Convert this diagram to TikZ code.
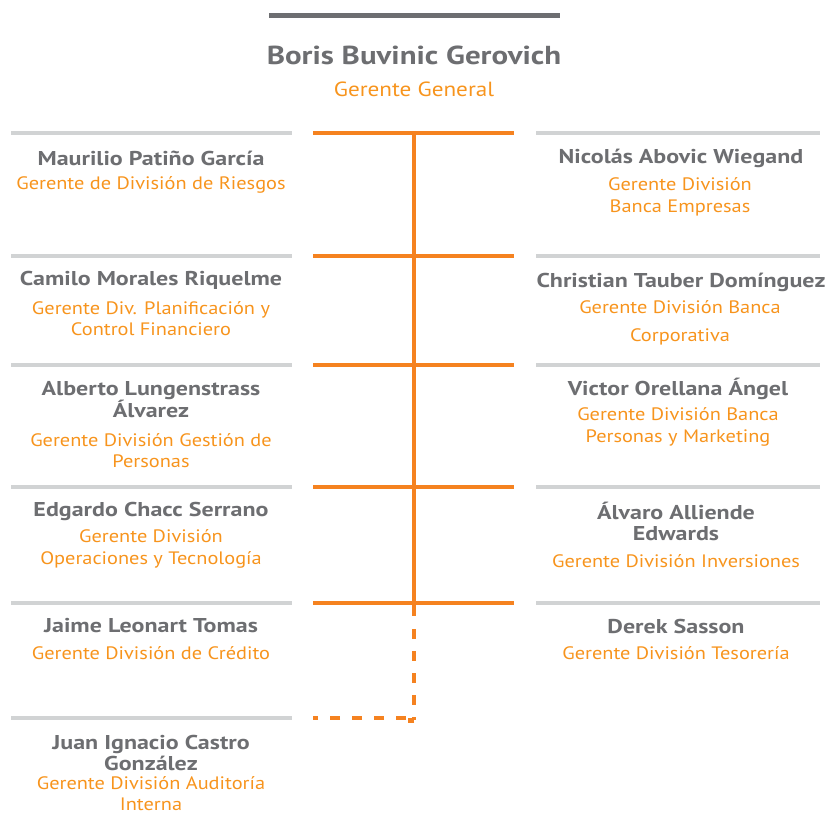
\documentclass[tikz,border=0pt]{standalone}
\usepackage{fontspec}
\setmainfont{PT Sans}
\newfontfamily\namefont[FakeStretch=1.2]{PT Sans}
\newfontfamily\rolefont[FakeStretch=1.13]{PT Sans}
\newfontfamily\titlefont[FakeStretch=1.19]{PT Sans}
\definecolor{txtgrey}{HTML}{6D6E71}
\definecolor{bargrey}{HTML}{D1D3D4}
\definecolor{darkbar}{HTML}{6D6E71}
\definecolor{corange}{HTML}{F58220}
\definecolor{torange}{HTML}{F7941D}
\begin{document}
\begin{tikzpicture}[x=1pt,y=-1pt,
  greybar/.style={draw=bargrey,line width=4.5pt},
  orbar/.style={draw=corange,line width=4.5pt},
  ordash/.style={draw=corange,line width=4.5pt,dash pattern=on 10pt off 12pt},
  pname/.style={text=txtgrey,font=\namefont\fontsize{20}{21}\selectfont\bfseries,align=center,inner sep=0pt},
  prole/.style={text=torange,font=\rolefont\fontsize{18}{21.5}\selectfont,align=center,inner sep=0pt},
  tname/.style={text=txtgrey,font=\titlefont\fontsize{26}{28}\selectfont\bfseries,inner sep=0pt},
  trole/.style={text=torange,font=\rolefont\fontsize{20.5}{22}\selectfont,inner sep=0pt}]
\useasboundingbox (0,0) rectangle (830,815);
% top bar and title
\coordinate (tb1) at (269,15); \coordinate (tb2) at (560,15);
\draw[draw=darkbar,line width=5pt] (tb1) -- (tb2);
\node[tname] (ceo) at (414,55) {Boris Buvinic Gerovich};
\node[trole] (ceor) at (414,89) {Gerente General};
% grey bars
\foreach \y/\n in {133/1,256/2,365/3,487/4,603/5,718/6}{
  \coordinate (gl\n a) at (11,\y); \coordinate (gl\n b) at (292,\y);
  \draw[greybar] (gl\n a) -- (gl\n b);}
\foreach \y/\n in {133/1,256/2,365/3,487/4,603/5}{
  \coordinate (gr\n a) at (536,\y); \coordinate (gr\n b) at (820,\y);
  \draw[greybar] (gr\n a) -- (gr\n b);}
% orange structure
\foreach \y/\n in {133/1,256/2,365/3,487/4,603/5}{
  \coordinate (ol\n) at (313,\y); \coordinate (or\n) at (514,\y); \coordinate (oc\n) at (414,\y);
  \draw[orbar] (ol\n) -- (or\n);}
\coordinate (oc6) at (414,718); \coordinate (ol6) at (313,718);
\coordinate (ocs) at (414,616); \coordinate (ocd) at (414,629);
\draw[orbar] ([yshift=2.25pt]oc1) -- (ocs);
\draw[ordash,line cap=butt] (ocd) -- ([yshift=-2.25pt]oc6);
\draw[orbar] ([yshift=-2.25pt]oc6) -- ([xshift=-6pt,yshift=-2.25pt]oc6);
\draw[ordash,line cap=butt,dash phase=0pt] ([xshift=-8pt]oc6) -- (ol6);
% left column
\node[pname] (l1n) at (151,158) {Maurilio Patiño García};
\node[prole] (l1r) at (151,185) {Gerente de División de Riesgos};
\node[pname] (l2n) at (151,280) {Camilo Morales Riquelme};
\node[prole] (l2r) at (151,318.5) {Gerente Div. Planificación y\\Control Financiero};
\node[pname] (l3n) at (151,399.5) {Alberto Lungenstrass\\Álvarez};
\node[prole] (l3r) at (151,450.5) {Gerente División Gestión de\\Personas};
\node[pname] (l4n) at (151,511) {Edgardo Chacc Serrano};
\node[prole] (l4r) at (151,549) {Gerente División\\Operaciones y Tecnología};
\node[pname] (l5n) at (151,626) {Jaime Leonart Tomas};
\node[prole] (l5r) at (151,653) {Gerente División de Crédito};
\node[pname] (l6n) at (151,752.5) {Juan Ignacio Castro\\González};
\node[prole] (l6r) at (151,793.5) {Gerente División Auditoría\\Interna};
% right column
\node[pname] (r1n) at (681,158) {Nicolás Abovic Wiegand};
\node[prole] (r1r) at (680,197) {Gerente División\\Banca Empresas};
\node[pname] (r2n) at (681,282) {Christian Tauber Domínguez};
\node[prole] (r2r) at (680,323) {Gerente División Banca\\[6pt]Corporativa};
\node[pname] (r3n) at (678,389) {Victor Orellana Ángel};
\node[prole] (r3r) at (678,427) {Gerente División Banca\\Personas y Marketing};
\node[pname] (r4n) at (676,521.5) {Álvaro Alliende\\Edwards};
\node[prole] (r4r) at (676,561) {Gerente División Inversiones};
\node[pname] (r5n) at (676,626) {Derek Sasson};
\node[prole] (r5r) at (676,653) {Gerente División Tesorería};
\end{tikzpicture}
\end{document}
